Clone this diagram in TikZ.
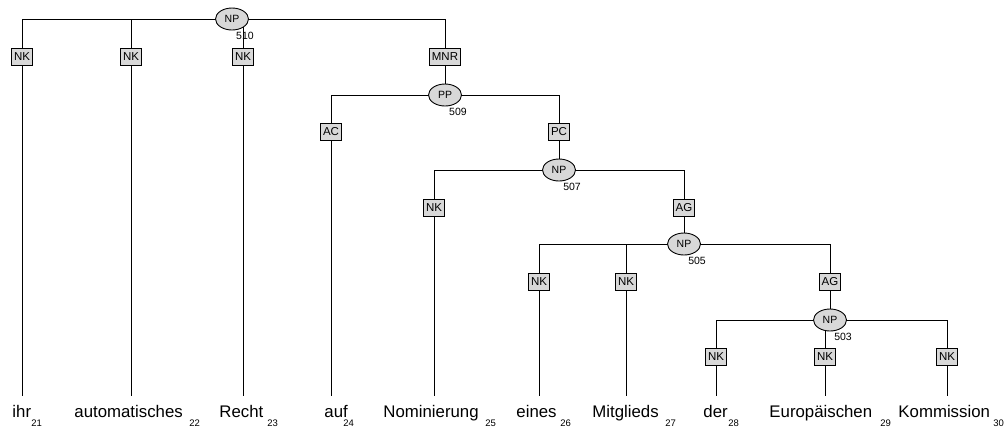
\documentclass[tikz,border=0pt]{standalone}
\usepackage{fontspec}
\setmainfont{Liberation Sans}
\usetikzlibrary{shapes.geometric,backgrounds}
\definecolor{boxgray}{RGB}{216,216,216}
\begin{document}
\begin{tikzpicture}[x=1pt,y=-1pt,line width=0.9pt,
  phrase/.style={ellipse,draw,fill=boxgray,minimum width=33,minimum height=22,
    inner sep=0pt,font=\fontsize{10.5}{12}\selectfont},
  edgelbl/.style={rectangle,draw,fill=boxgray,minimum height=17,inner xsep=2.5pt,
    inner ysep=0pt,font=\fontsize{11.5}{13}\selectfont},
  word/.style={anchor=base west,inner xsep=0pt,inner ysep=9pt,text height=12pt,
    text depth=4pt,font=\fontsize{16.8}{19}\selectfont},
  idx/.style={anchor=base west,inner sep=0pt,font=\fontsize{9.5}{11}\selectfont},
  num/.style={inner sep=0pt,font=\fontsize{10.5}{12}\selectfont},
  link/.style={draw,line width=0.9pt}]
\useasboundingbox (0,0) rectangle (1008,432);

% phrase nodes with their numbers
\node[phrase] (np510) at (232,19) {NP};
\node[num] (n510) at (245,36) {510};
\node[phrase] (pp509) at (445,95) {PP};
\node[num] (n509) at (458,112) {509};
\node[phrase] (np507) at (559,170) {NP};
\node[num] (n507) at (572,187) {507};
\node[phrase] (np505) at (684,244) {NP};
\node[num] (n505) at (697,261) {505};
\node[phrase] (np503) at (830,320) {NP};
\node[num] (n503) at (843,337) {503};

% edge labels
\node[edgelbl] (e1) at (22,57) {NK};
\node[edgelbl] (e2) at (131,57) {NK};
\node[edgelbl] (e3) at (243,57) {NK};
\node[edgelbl] (e4) at (445,57) {MNR};
\node[edgelbl] (e5) at (331,132) {AC};
\node[edgelbl] (e6) at (559,132) {PC};
\node[edgelbl] (e7) at (434,208) {NK};
\node[edgelbl] (e8) at (684,208) {AG};
\node[edgelbl] (e9) at (539,282) {NK};
\node[edgelbl] (e10) at (626,282) {NK};
\node[edgelbl] (e11) at (830,282) {AG};
\node[edgelbl] (e12) at (716,357) {NK};
\node[edgelbl] (e13) at (825,357) {NK};
\node[edgelbl] (e14) at (947,357) {NK};

% terminal words and their positions
\node[word] (w21) at (12,417) {ihr};
\node[word] (w22) at (74,417) {automatisches};
\node[word] (w23) at (219,417) {Recht};
\node[word] (w24) at (324,417) {auf};
\node[word] (w25) at (383,417) {Nominierung};
\node[word] (w26) at (516,417) {eines};
\node[word] (w27) at (592,417) {Mitglieds};
\node[word] (w28) at (703,417) {der};
\node[word] (w29) at (769,417) {Europäischen};
\node[word] (w30) at (898,417) {Kommission};
\node[idx] (i21) at (31,426) {21};
\node[idx] (i22) at (189,426) {22};
\node[idx] (i23) at (267,426) {23};
\node[idx] (i24) at (343,426) {24};
\node[idx] (i25) at (485,426) {25};
\node[idx] (i26) at (560,426) {26};
\node[idx] (i27) at (665,426) {27};
\node[idx] (i28) at (728,426) {28};
\node[idx] (i29) at (880,426) {29};
\node[idx] (i30) at (993,426) {30};

\begin{pgfonlayer}{background}
  % brackets from each phrase to its edge labels
  \foreach \p/\c in {np510/e1,np510/e2,np510/e3,np510/e4,
                     pp509/e5,pp509/e6,np507/e7,np507/e8,
                     np505/e9,np505/e10,np505/e11,
                     np503/e12,np503/e13,np503/e14}
    \path[link] (\p.center) -| (\c.north);
  % edge labels down to phrases
  \path[link] (e4.south) -- (pp509);
  \path[link] (e6.south) -- (np507);
  \path[link] (e8.south) -- (np505);
  \path[link] (e11.south) -- (np503);
  % edge labels down to words
  \foreach \e/\w in {e1/w21,e2/w22,e3/w23,e5/w24,e7/w25,
                     e9/w26,e10/w27,e12/w28,e13/w29,e14/w30}
    \path[link] (\e.south) -- (\e.south |- \w.north);
\end{pgfonlayer}
\end{tikzpicture}
\end{document}
